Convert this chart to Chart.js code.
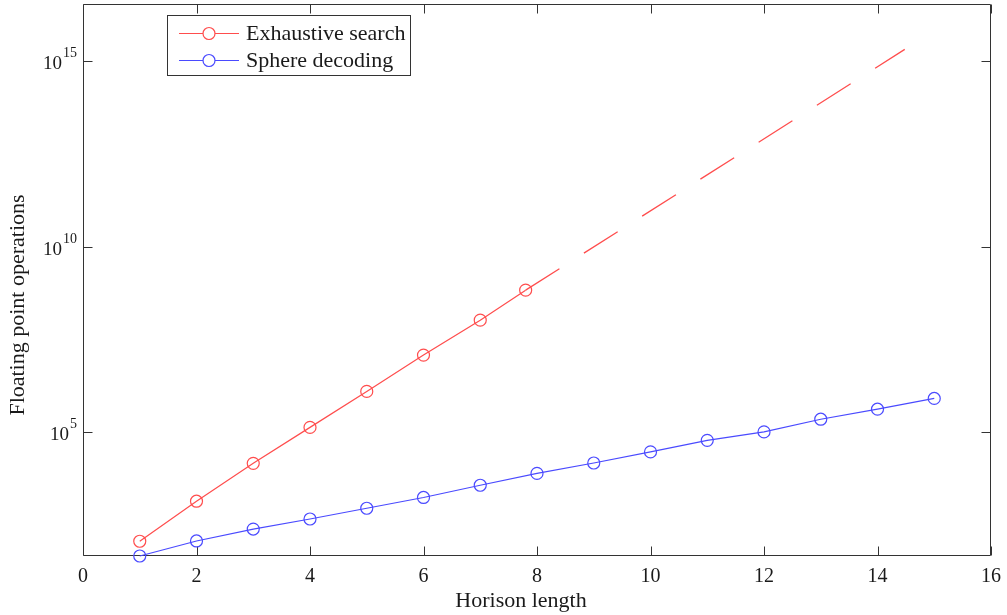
<!DOCTYPE html>
<html>
<head>
<meta charset="utf-8">
<script src="https://cdn.jsdelivr.net/npm/chart.js@4.4.1/dist/chart.umd.min.js"></script>
<style>
html,body{margin:0;padding:0;background:#fff;}
#wrap{width:1007px;height:615px;position:relative;}
</style>
</head>
<body>
<div id="wrap"><canvas id="c" width="1007" height="615"></canvas></div>
<script>
// ---- data ----
const seriesLabels = ['Exhaustive search', 'Sphere decoding'];
const exhaustiveX = [1, 2, 3, 4, 5, 6, 7, 7.8];
const exhaustiveFlops = [115, 1380, 14500, 135000, 1.26e6, 1.2e7, 1.05e8, 6.76e8];
const extrapolationX = [7.8, 14.48];
const extrapolationFlops = [6.76e8, 2.09e15];
const sphereX = [1, 2, 3, 4, 5, 6, 7, 8, 9, 10, 11, 12, 13, 14, 15];
const sphereFlops = [46, 117, 245, 457, 891, 1740, 3715, 7760, 14800, 29500, 60300, 102000, 224000, 417000, 813000];
const xTickValues = [0, 2, 4, 6, 8, 10, 12, 14, 16];
const yTickValues = [1e5, 1e10, 1e15];
const yTickBase = '10';
const yTickExponents = ['5', '10', '15'];
const xTitle = 'Horison length';
const yTitle = 'Floating point operations';

const RED = '#ff4d4d';
const BLUE = '#4a4aff';
const FONT = '"Liberation Serif", "Times New Roman", serif';
const TEXT = '#1a1a1a';

function pts(xs, ys) { return xs.map((x, i) => ({ x: x, y: ys[i] })); }

const framePlugin = {
  id: 'frame',
  beforeDatasetsDraw(chart) {
    const { ctx, chartArea: a, scales } = chart;
    ctx.save();
    ctx.strokeStyle = '#333';
    ctx.lineWidth = 1;
    const L = Math.round(a.left) + 0.5, R = Math.round(a.right) - 0.5;
    const T = Math.round(a.top) + 0.5, B = Math.round(a.bottom) - 0.5;
    ctx.beginPath();
    ctx.rect(L, T, R - L, B - T);
    const tl = 9;
    scales.x.ticks.forEach(t => {
      const px = Math.round(scales.x.getPixelForValue(t.value)) + 0.5;
      ctx.moveTo(px, B); ctx.lineTo(px, B - tl);
      ctx.moveTo(px, T); ctx.lineTo(px, T + tl);
    });
    scales.y.ticks.forEach(t => {
      const py = Math.round(scales.y.getPixelForValue(t.value)) + 0.5;
      ctx.moveTo(L, py); ctx.lineTo(L + tl, py);
      ctx.moveTo(R, py); ctx.lineTo(R - tl, py);
    });
    ctx.stroke();

    // y tick labels: base with raised exponent
    ctx.fillStyle = TEXT;
    ctx.textBaseline = 'alphabetic';
    scales.y.ticks.forEach(t => {
      const i = yTickValues.indexOf(t.value);
      if (i < 0) return;
      const py = scales.y.getPixelForValue(t.value);
      ctx.font = '14px ' + FONT;
      const ew = ctx.measureText(yTickExponents[i]).width;
      const right = a.left - 6;
      ctx.textAlign = 'right';
      ctx.fillText(yTickExponents[i], right, py - 4);
      ctx.font = '19px ' + FONT;
      ctx.fillText(yTickBase, right - ew - 1, py + 8);
    });
    ctx.restore();
  },
  afterDraw(chart) {
    const { ctx } = chart;
    ctx.save();
    ctx.fillStyle = TEXT;
    ctx.font = '22px ' + FONT;
    ctx.textAlign = 'center';
    ctx.textBaseline = 'middle';
    ctx.fillText(xTitle, 521, 601);
    ctx.translate(18, 305);
    ctx.rotate(-Math.PI / 2);
    ctx.fillText(yTitle, 0, 0);
    ctx.restore();

    // legend
    ctx.save();
    const bx = 167.5, by = 15.5, bw = 243, bh = 60;
    ctx.fillStyle = '#fff';
    ctx.fillRect(bx, by, bw, bh);
    ctx.strokeStyle = '#333';
    ctx.lineWidth = 1;
    ctx.strokeRect(bx, by, bw, bh);
    const rows = [
      { label: chart.data.datasets[0].label, color: RED, y: 33 },
      { label: chart.data.datasets[2].label, color: BLUE, y: 60 }
    ];
    rows.forEach(r => {
      ctx.strokeStyle = r.color;
      ctx.lineWidth = 1.2;
      ctx.beginPath();
      ctx.moveTo(179, r.y + 0.5); ctx.lineTo(239, r.y + 0.5);
      ctx.stroke();
      ctx.beginPath();
      ctx.arc(209, r.y + 0.5, 6, 0, Math.PI * 2);
      ctx.fillStyle = '#fff';
      ctx.fill();
      ctx.stroke();
      ctx.fillStyle = TEXT;
      ctx.font = '22px ' + FONT;
      ctx.textAlign = 'left';
      ctx.textBaseline = 'middle';
      ctx.fillText(r.label, 246, r.y + 1);
    });
    ctx.restore();
  }
};

new Chart(document.getElementById('c'), {
  type: 'line',
  data: {
    datasets: [
      {
        label: seriesLabels[0],
        data: pts(exhaustiveX, exhaustiveFlops),
        borderColor: RED, backgroundColor: 'transparent',
        borderWidth: 1.2, pointRadius: 6, pointBorderWidth: 1.2,
        pointBorderColor: RED, pointBackgroundColor: 'transparent',
        tension: 0, clip: false
      },
      {
        label: seriesLabels[0] + ' (extrapolated)',
        data: pts(extrapolationX, extrapolationFlops),
        borderColor: RED, borderWidth: 1.3, borderDash: [40, 29],
        pointRadius: 0, tension: 0, clip: false
      },
      {
        label: seriesLabels[1],
        data: pts(sphereX, sphereFlops),
        borderColor: BLUE, backgroundColor: 'transparent',
        borderWidth: 1.2, pointRadius: 6, pointBorderWidth: 1.2,
        pointBorderColor: BLUE, pointBackgroundColor: 'transparent',
        tension: 0, clip: false
      }
    ]
  },
  options: {
    responsive: false,
    animation: false,
    devicePixelRatio: 1,
    layout: { autoPadding: false, padding: { left: 0, right: 16, top: 4, bottom: 0 } },
    plugins: { legend: { display: false }, tooltip: { enabled: false } },
    scales: {
      x: {
        type: 'linear', min: 0, max: 16,
        afterBuildTicks: s => { s.ticks = xTickValues.map(v => ({ value: v })); },
        ticks: { font: { family: FONT, size: 20 }, color: TEXT, padding: 9, maxRotation: 0, autoSkip: false,
                 callback: v => String(v) },
        grid: { display: false, drawTicks: false },
        border: { display: false },
        afterFit: s => { s.height = 59; s.paddingLeft = 0; s.paddingRight = 0; }
      },
      y: {
        type: 'logarithmic', min: 46, max: 3.5e16,
        afterBuildTicks: s => { s.ticks = yTickValues.map(v => ({ value: v })); },
        ticks: { display: false },
        grid: { display: false, drawTicks: false },
        border: { display: false },
        afterFit: s => { s.width = 83; s.paddingTop = 0; s.paddingBottom = 0; }
      }
    }
  },
  plugins: [framePlugin]
});
</script>
</body>
</html>
